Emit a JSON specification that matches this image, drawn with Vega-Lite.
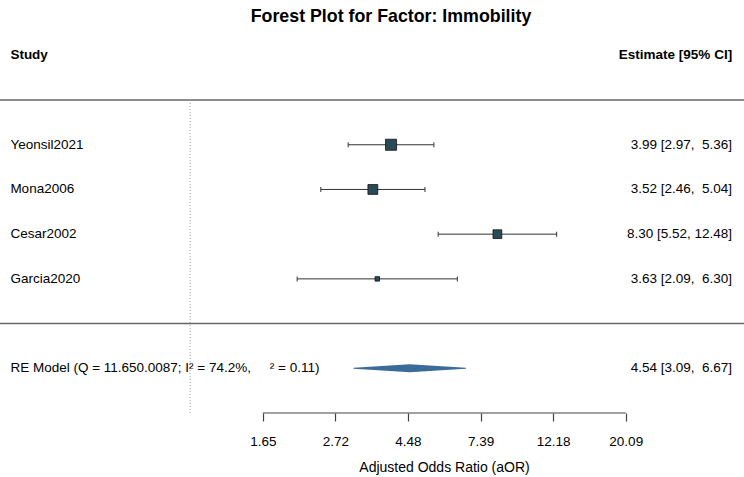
{
  "$schema": "https://vega.github.io/schema/vega-lite/v6.json",
  "width": 744,
  "height": 373,
  "autosize": {"type": "none"},
  "padding": {"top": 40, "left": 0, "right": 0, "bottom": 64},
  "background": "white",
  "config": {"font": "Liberation Sans", "view": {"stroke": null}},
  "title": {"text": "Forest Plot for Factor: Immobility", "fontSize": 17.8, "font": "Liberation Sans", "fontWeight": "bold", "anchor": "middle", "frame": "group", "baseline": "alphabetic", "offset": 0, "dx": 19, "color": "black"},
  "datasets": {
    "studies": [
      {"study": "Yeonsil2021", "row": 4, "est": 3.99, "lo": 2.97, "hi": 5.36, "weight": 28.6, "label": "3.99 [2.97, \u00a05.36]"},
      {"study": "Mona2006", "row": 3, "est": 3.52, "lo": 2.46, "hi": 5.04, "weight": 26.5, "label": "3.52 [2.46, \u00a05.04]"},
      {"study": "Cesar2002", "row": 2, "est": 8.30, "lo": 5.52, "hi": 12.48, "weight": 24.8, "label": "8.30 [5.52, 12.48]"},
      {"study": "Garcia2020", "row": 1, "est": 3.63, "lo": 2.09, "hi": 6.30, "weight": 20.1, "label": "3.63 [2.09, \u00a06.30]"}
    ],
    "summary": [
      {"model": "RE Model (Q = 11.650.0087; I\u00b2 = 74.2%, \u00a0\u00a0\u00a0\u00a0\u00b2 = 0.11)", "row": -1, "est": 4.54, "lo": 3.09, "hi": 6.67, "label": "4.54 [3.09, \u00a06.67]"}
    ],
    "one": [{}]
  },
  "layer": [
    {
      "data": {"name": "one"},
      "mark": {"type": "rule", "color": "#444444", "strokeWidth": 1.2},
      "encoding": {
        "x": {"datum": 1.65, "type": "quantitative", "scale": {"type": "log", "base": 2.718281828459045, "domain": [0.27, 45.36], "nice": false},
          "axis": {"values": [1.65, 2.72, 4.48, 7.39, 12.18, 20.09], "format": ".2f", "domain": false, "grid": false, "ticks": true, "tickSize": 8, "tickColor": "#444444", "tickWidth": 1.2, "labelFontSize": 13.5, "labelColor": "black", "labelPadding": 13, "labelFont": "Liberation Sans", "labelFlush": false, "labelOverlap": false, "title": "Adjusted Odds Ratio (aOR)", "titleFontSize": 14, "titleFontWeight": "normal", "titleColor": "black", "titleFont": "Liberation Sans", "titleX": 444, "titleY": 54, "titleAlign": "center", "titleBaseline": "middle"}},
        "x2": {"datum": 20.09},
        "y": {"datum": -2, "scale": {"domain": [-2, 6.343], "nice": false, "zero": false}, "axis": null}
      }
    },
    {
      "data": {"name": "one"},
      "mark": {"type": "rule", "color": "#666666", "strokeWidth": 1.5},
      "encoding": {"y": {"datum": 5, "scale": {"domain": [-2, 6.343], "nice": false, "zero": false}, "axis": null}}
    },
    {
      "data": {"name": "one"},
      "mark": {"type": "rule", "color": "#666666", "strokeWidth": 1.5},
      "encoding": {"y": {"datum": 0, "scale": {"domain": [-2, 6.343], "nice": false, "zero": false}, "axis": null}}
    },
    {
      "data": {"name": "one"},
      "mark": {"type": "rule", "color": "#999999", "strokeWidth": 1, "strokeDash": [1, 2]},
      "encoding": {
        "x": {"datum": 1, "type": "quantitative"},
        "y": {"datum": 5, "scale": {"domain": [-2, 6.343], "nice": false, "zero": false}, "axis": null},
        "y2": {"datum": -2}
      }
    },
    {
      "data": {"name": "studies"},
      "mark": {"type": "rule", "color": "#333333", "strokeWidth": 1},
      "encoding": {
        "x": {"field": "lo", "type": "quantitative"},
        "x2": {"field": "hi"},
        "y": {"field": "row", "type": "quantitative", "scale": {"domain": [-2, 6.343], "nice": false, "zero": false}, "axis": null}
      }
    },
    {
      "data": {"name": "studies"},
      "transform": [{"fold": ["lo", "hi"], "as": ["end", "value"]}],
      "mark": {"type": "tick", "orient": "vertical", "size": 5, "thickness": 1, "color": "#333333", "opacity": 1},
      "encoding": {
        "x": {"field": "value", "type": "quantitative"},
        "y": {"field": "row", "type": "quantitative", "scale": {"domain": [-2, 6.343], "nice": false, "zero": false}, "axis": null}
      }
    },
    {
      "data": {"name": "studies"},
      "mark": {"type": "point", "shape": "square", "filled": true, "color": "#2B4A57", "stroke": "#111111", "strokeWidth": 0.8, "opacity": 1},
      "encoding": {
        "x": {"field": "est", "type": "quantitative"},
        "y": {"field": "row", "type": "quantitative", "scale": {"domain": [-2, 6.343], "nice": false, "zero": false}, "axis": null},
        "size": {"field": "weight", "type": "quantitative", "scale": {"domain": [20.1, 28.6], "range": [20, 122], "zero": false}, "legend": null}
      }
    },
    {
      "data": {"name": "studies"},
      "mark": {"type": "text", "align": "left", "baseline": "middle", "fontSize": 13.5, "color": "black"},
      "encoding": {
        "x": {"datum": 0.29, "type": "quantitative"},
        "y": {"field": "row", "type": "quantitative", "scale": {"domain": [-2, 6.343], "nice": false, "zero": false}, "axis": null},
        "text": {"field": "study"}
      }
    },
    {
      "data": {"name": "studies"},
      "mark": {"type": "text", "align": "right", "baseline": "middle", "fontSize": 13.5, "color": "black"},
      "encoding": {
        "x": {"datum": 41.8, "type": "quantitative"},
        "y": {"field": "row", "type": "quantitative", "scale": {"domain": [-2, 6.343], "nice": false, "zero": false}, "axis": null},
        "text": {"field": "label"}
      }
    },
    {
      "data": {"name": "one"},
      "mark": {"type": "text", "align": "left", "baseline": "middle", "fontSize": 13.5, "fontWeight": "bold", "color": "black", "text": "Study"},
      "encoding": {
        "x": {"datum": 0.29, "type": "quantitative"},
        "y": {"datum": 6, "scale": {"domain": [-2, 6.343], "nice": false, "zero": false}, "axis": null}
      }
    },
    {
      "data": {"name": "one"},
      "mark": {"type": "text", "align": "right", "baseline": "middle", "fontSize": 13.5, "fontWeight": "bold", "color": "black", "text": "Estimate [95% CI]"},
      "encoding": {
        "x": {"datum": 41.8, "type": "quantitative"},
        "y": {"datum": 6, "scale": {"domain": [-2, 6.343], "nice": false, "zero": false}, "axis": null}
      }
    },
    {
      "data": {"name": "summary"},
      "transform": [{"fold": ["lo", "est", "hi"], "as": ["key", "value"]}],
      "mark": {"type": "trail", "color": "#3B6C99", "opacity": 1},
      "encoding": {
        "x": {"field": "value", "type": "quantitative"},
        "y": {"field": "row", "type": "quantitative", "scale": {"domain": [-2, 6.343], "nice": false, "zero": false}, "axis": null},
        "size": {"condition": {"test": "datum.key === 'est'", "value": 8}, "value": 0}
      }
    },
    {
      "data": {"name": "summary"},
      "mark": {"type": "text", "align": "left", "baseline": "middle", "fontSize": 13.5, "color": "black"},
      "encoding": {
        "x": {"datum": 0.29, "type": "quantitative"},
        "y": {"field": "row", "type": "quantitative", "scale": {"domain": [-2, 6.343], "nice": false, "zero": false}, "axis": null},
        "text": {"field": "model"}
      }
    },
    {
      "data": {"name": "summary"},
      "mark": {"type": "text", "align": "right", "baseline": "middle", "fontSize": 13.5, "color": "black"},
      "encoding": {
        "x": {"datum": 41.8, "type": "quantitative"},
        "y": {"field": "row", "type": "quantitative", "scale": {"domain": [-2, 6.343], "nice": false, "zero": false}, "axis": null},
        "text": {"field": "label"}
      }
    }
  ]
}
